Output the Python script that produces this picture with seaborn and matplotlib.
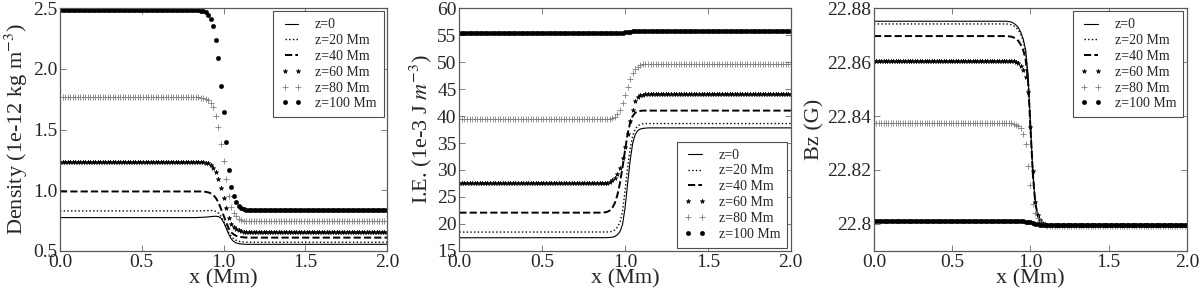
import numpy as np
import matplotlib
matplotlib.use("Agg")
import matplotlib.pyplot as plt
import seaborn as sns

# x grid (Mm), 131 points; each series = left plateau (55) + transition (21) + right plateau (55)
x_mm = np.linspace(0.0, 2.0, 131)
n_left = 55
n_right = 55

labels = ['z=0', 'z=20 Mm', 'z=40 Mm', 'z=60 Mm', 'z=80 Mm', 'z=100 Mm']

# --- Density (1e-12 kg m^-3)
dens_left = [0.775, 0.830, 0.990, 1.233, 1.764, 2.480]
dens_right = [0.555, 0.572, 0.610, 0.657, 0.745, 0.835]
dens_z0 = [0.776, 0.777, 0.778, 0.779, 0.781, 0.783, 0.785, 0.786, 0.783, 0.770, 0.738,
           0.692, 0.642, 0.602, 0.579, 0.567, 0.561, 0.558, 0.556, 0.555, 0.555]
dens_z20 = [0.830, 0.830, 0.831, 0.832, 0.833, 0.833, 0.832, 0.826, 0.812, 0.786, 0.749,
            0.701, 0.656, 0.623, 0.601, 0.588, 0.580, 0.576, 0.574, 0.573, 0.572]
dens_z40 = [0.990, 0.990, 0.989, 0.987, 0.982, 0.974, 0.960, 0.935, 0.900, 0.847, 0.796,
            0.740, 0.688, 0.655, 0.637, 0.625, 0.618, 0.615, 0.612, 0.611, 0.610]
dens_z60 = [1.233, 1.232, 1.231, 1.228, 1.221, 1.209, 1.187, 1.149, 1.096, 1.016, 0.939,
            0.855, 0.775, 0.726, 0.697, 0.680, 0.669, 0.664, 0.660, 0.658, 0.657]
dens_z80 = [1.764, 1.763, 1.761, 1.755, 1.743, 1.721, 1.684, 1.615, 1.523, 1.380, 1.244,
            1.094, 0.953, 0.866, 0.816, 0.786, 0.766, 0.757, 0.751, 0.747, 0.745]
dens_z100 = [2.480, 2.478, 2.475, 2.465, 2.445, 2.410, 2.350, 2.240, 2.090, 1.860, 1.640,
             1.400, 1.170, 1.030, 0.950, 0.900, 0.870, 0.855, 0.845, 0.838, 0.835]

# --- Internal energy (1e-3 J m^-3)
ie_left = [17.45, 18.50, 22.10, 27.50, 39.40, 55.30]
ie_right = [37.80, 38.60, 41.00, 44.00, 49.70, 55.70]
ie_z0 = [17.45, 17.45, 17.45, 17.47, 17.50, 17.55, 17.70, 18.00, 18.60, 19.90, 23.00,
         27.50, 31.80, 35.00, 36.60, 37.30, 37.60, 37.70, 37.75, 37.80, 37.80]
ie_z20 = [18.50, 18.50, 18.50, 18.52, 18.55, 18.65, 18.90, 19.40, 20.30, 22.30, 26.20,
          30.50, 34.00, 36.40, 37.60, 38.20, 38.45, 38.55, 38.60, 38.60, 38.60]
ie_z40 = [22.10, 22.10, 22.15, 22.25, 22.50, 23.00, 23.90, 25.40, 27.60, 30.50, 33.70,
          36.70, 38.80, 40.00, 40.60, 40.85, 40.95, 41.00, 41.00, 41.00, 41.00]
ie_z60 = [27.50, 27.50, 27.55, 27.60, 27.80, 28.10, 28.50, 29.20, 30.40, 32.20, 34.30,
          36.60, 39.10, 41.20, 42.80, 43.60, 43.85, 43.95, 44.00, 44.00, 44.00]
ie_z80 = [39.40, 39.40, 39.42, 39.45, 39.52, 39.65, 39.90, 40.40, 41.20, 42.40, 43.90,
          45.40, 46.80, 47.90, 48.70, 49.15, 49.40, 49.55, 49.63, 49.68, 49.70]
ie_z100 = [55.30, 55.30, 55.30, 55.30, 55.31, 55.32, 55.34, 55.37, 55.41, 55.46, 55.52,
           55.58, 55.63, 55.66, 55.68, 55.69, 55.70, 55.70, 55.70, 55.70, 55.70]

# --- Bz (G)
bz_left = [22.8751, 22.8741, 22.8696, 22.8604, 22.8374, 22.8010]
bz_right = [22.7995, 22.7995, 22.7995, 22.7995, 22.7991, 22.7998]
bz_z0 = [22.8751, 22.8750, 22.8748, 22.8744, 22.8737, 22.8727, 22.8710, 22.8685, 22.8645,
         22.8550, 22.8370, 22.8190, 22.8080, 22.8035, 22.8015, 22.8005, 22.8000, 22.7997,
         22.7996, 22.7995, 22.7995]
bz_z20 = [22.8741, 22.8740, 22.8738, 22.8734, 22.8728, 22.8718, 22.8702, 22.8678, 22.8638,
          22.8545, 22.8366, 22.8188, 22.8079, 22.8035, 22.8015, 22.8005, 22.8000, 22.7997,
          22.7996, 22.7995, 22.7995]
bz_z40 = [22.8696, 22.8695, 22.8694, 22.8691, 22.8686, 22.8678, 22.8664, 22.8644, 22.8610,
          22.8530, 22.8360, 22.8185, 22.8078, 22.8034, 22.8015, 22.8005, 22.8000, 22.7997,
          22.7996, 22.7995, 22.7995]
bz_z60 = [22.8604, 22.8604, 22.8603, 22.8602, 22.8600, 22.8595, 22.8585, 22.8570, 22.8545,
          22.8490, 22.8360, 22.8195, 22.8080, 22.8035, 22.8015, 22.8005, 22.8000, 22.7997,
          22.7996, 22.7995, 22.7995]
bz_z80 = [22.8374, 22.8374, 22.8373, 22.8371, 22.8368, 22.8364, 22.8354, 22.8332, 22.8295,
          22.8215, 22.8145, 22.8075, 22.8040, 22.8022, 22.8010, 22.8002, 22.7997, 22.7994,
          22.7992, 22.7991, 22.7991]
bz_z100 = [22.8010, 22.8010, 22.8010, 22.8010, 22.8010, 22.8010, 22.8010, 22.8010, 22.8009,
           22.8008, 22.8006, 22.8003, 22.8001, 22.7999, 22.7998, 22.7998, 22.7998, 22.7998,
           22.7998, 22.7998, 22.7998]

# ticks
x_ticks = [0.0, 0.5, 1.0, 1.5, 2.0]
x_ticklabels = ['0.0', '0.5', '1.0', '1.5', '2.0']
dens_ticks = [0.5, 1.0, 1.5, 2.0, 2.5]
dens_ticklabels = ['0.5', '1.0', '1.5', '2.0', '2.5']
ie_ticks = [15, 20, 25, 30, 35, 40, 45, 50, 55, 60]
ie_ticklabels = ['15', '20', '25', '30', '35', '40', '45', '50', '55', '60']
bz_ticks = [22.80, 22.82, 22.84, 22.86, 22.88]
bz_ticklabels = ['22.8', '22.82', '22.84', '22.86', '22.88']


def build(left, mid, right):
    return np.array([left] * n_left + mid + [right] * n_right)


# line / marker style of each z level
styles = [
    dict(color='k', ls='-', lw=0.8),
    dict(color='k', ls=':', lw=1.0),
    dict(color='k', ls='--', lw=1.4),
    dict(color='k', ls='none', marker='*', ms=3.4, mec='k', mew=0.4),
    dict(color='0.5', ls='none', marker='+', ms=3.8, mec='0.5', mew=0.6),
    dict(color='k', ls='none', marker='o', ms=3.2, mec='k', mew=0.3),
]

sns.set_style("ticks")
plt.rcParams['font.family'] = ['Liberation Serif', 'DejaVu Serif']
plt.rcParams['mathtext.fontset'] = 'stix'
plt.rcParams['xtick.direction'] = 'in'
plt.rcParams['ytick.direction'] = 'in'
plt.rcParams['xtick.top'] = True
plt.rcParams['ytick.right'] = True

fig = plt.figure(figsize=(12, 2.89), dpi=100)
ax1 = fig.add_axes([0.0500, 0.1315, 0.2725, 0.8408])
ax2 = fig.add_axes([0.3828, 0.1315, 0.2762, 0.8408])
ax3 = fig.add_axes([0.7283, 0.1315, 0.2608, 0.8408])

panels = [
    (ax1, dens_left, dens_right, [dens_z0, dens_z20, dens_z40, dens_z60, dens_z80, dens_z100],
     'Density (1e-12 kg m$^{-3}$)', (0.5, 2.5), dens_ticks, dens_ticklabels, 'upper right'),
    (ax2, ie_left, ie_right, [ie_z0, ie_z20, ie_z40, ie_z60, ie_z80, ie_z100],
     'I.E. (1e-3 J $m^{-3}$)', (15, 60), ie_ticks, ie_ticklabels, 'lower right'),
    (ax3, bz_left, bz_right, [bz_z0, bz_z20, bz_z40, bz_z60, bz_z80, bz_z100],
     'Bz (G)', (22.79, 22.88), bz_ticks, bz_ticklabels, 'upper right'),
]

for ax, left, right, mids, ylab, ylim, yt, ytl, loc in panels:
    for i in range(6):
        y = build(left[i], mids[i], right[i])
        sns.lineplot(x=x_mm, y=y, ax=ax, label=labels[i], estimator=None, sort=False,
                     legend=False, **styles[i])
    ax.set_xlim(0, 2)
    ax.set_ylim(*ylim)
    ax.set_xticks(x_ticks)
    ax.set_xticklabels(x_ticklabels)
    ax.set_yticks(yt)
    ax.set_yticklabels(ytl)
    ax.tick_params(labelsize=14, length=4, width=0.5, pad=2, color='0.3')
    ax.set_xlabel('x (Mm)', fontsize=16, labelpad=-1)
    ax.set_ylabel(ylab, fontsize=16, labelpad=2)
    for sp in ax.spines.values():
        sp.set_color('0.35')
        sp.set_linewidth(0.9)
    leg = ax.legend(loc=loc, numpoints=2, fontsize=10, fancybox=False, framealpha=1,
                    edgecolor='0.3', borderaxespad=0.25, handlelength=1.6,
                    handletextpad=0.9, labelspacing=0.2, borderpad=0.5)
    leg.get_frame().set_linewidth(0.8)

plt.savefig('out.png', dpi=100)
